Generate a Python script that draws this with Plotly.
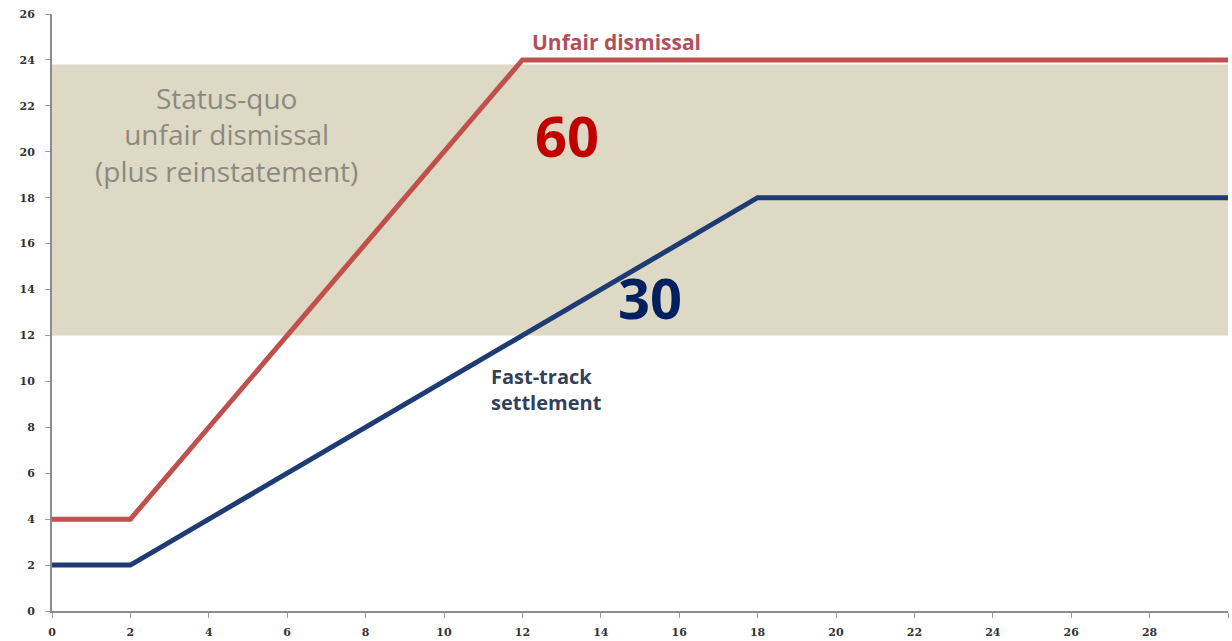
import plotly.graph_objects as go

# Compensation paths (months of service vs. weeks of pay)
unfair_months = [0, 2, 12, 30]
unfair_weeks = [4, 4, 24, 24]
fast_months = [0, 2, 18, 30]
fast_weeks = [2, 2, 18, 18]

status_quo_band = (12, 23.8)

x_ticks = list(range(0, 31, 2))
y_ticks = list(range(0, 27, 2))

RED = "#C0504D"
NAVY = "#1F3B73"

fig = go.Figure()

# Red: unfair dismissal path (flat to 2, rising to 24 at 12, flat thereafter)
fig.add_trace(go.Scatter(
    x=unfair_months, y=unfair_weeks,
    mode="lines", line=dict(color=RED, width=5), hoverinfo="skip",
))
# Blue: fast-track settlement path
fig.add_trace(go.Scatter(
    x=fast_months, y=fast_weeks,
    mode="lines", line=dict(color=NAVY, width=5), hoverinfo="skip",
))

fig.add_shape(
    type="rect", xref="x", yref="y",
    x0=0, x1=30, y0=status_quo_band[0], y1=status_quo_band[1],
    fillcolor="#DDD9C4", line=dict(width=0), layer="below",
)

fig.add_annotation(
    x=14.4, y=24.8, text="<b>Unfair dismissal</b>", showarrow=False,
    font=dict(family="Open Sans", size=21, color="#B0505A"),
)
fig.add_annotation(
    x=4.46, y=20.77,
    text="Status-quo<br>unfair dismissal<br>(plus reinstatement)",
    showarrow=False, align="center",
    font=dict(family="Open Sans", size=28, color="#8C8A80"),
)
fig.add_annotation(
    x=13.14, y=20.73, text="<b>60</b>", showarrow=False,
    font=dict(family="Open Sans", size=56, color="#C00000"),
)
fig.add_annotation(
    x=15.26, y=13.68, text="<b>30</b>", showarrow=False,
    font=dict(family="Open Sans", size=56, color="#002060"),
)
fig.add_annotation(
    x=11.15, y=9.63, text="<b>Fast-track<br>settlement</b>", showarrow=False,
    xanchor="left", align="left",
    font=dict(family="Open Sans", size=20, color="#34405A"),
)

axis_common = dict(
    showgrid=False, zeroline=False, showline=True,
    linecolor="#8C8C8C", linewidth=2, automargin=False,
    ticks="outside", ticklen=5, tickcolor="#9A9A9A", tickwidth=1,
    tickfont=dict(family="DejaVu Serif", size=11, color="#333333", weight="bold"),
)

fig.update_xaxes(range=[0, 30], tickvals=x_ticks, ticklabelstandoff=5, **axis_common)
fig.update_yaxes(range=[0, 26], tickvals=y_ticks, ticklabelstandoff=8, **axis_common)

fig.update_layout(
    width=1232, height=641,
    margin=dict(l=52, r=4, t=14, b=30),
    paper_bgcolor="white", plot_bgcolor="white",
    showlegend=False,
)

fig.write_html("out.html")
